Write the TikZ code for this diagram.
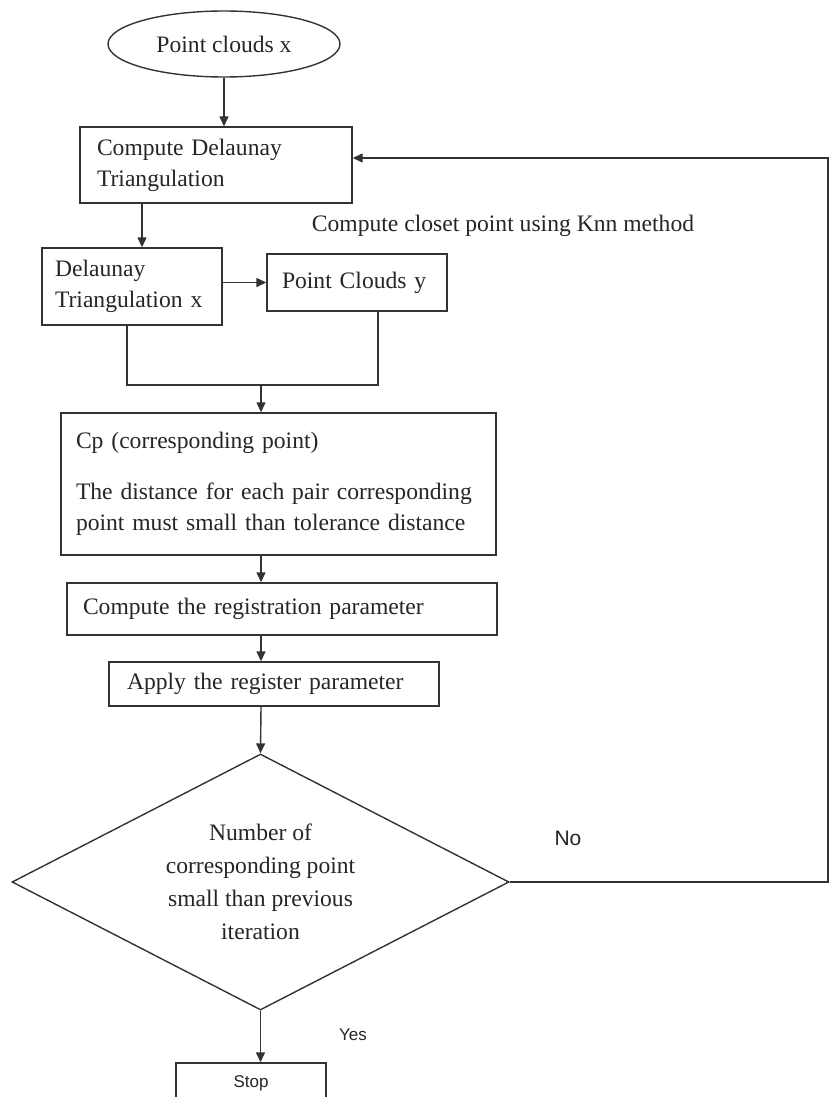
\documentclass[tikz,border=0pt]{standalone}
\usepackage{fontspec}
\setmainfont{Liberation Serif}
\setsansfont{Liberation Sans}
\usetikzlibrary{shapes.geometric,arrows.meta}

\tikzset{
    flowbox/.style={draw=black!80, line width=0.7pt, rectangle, align=left, inner ysep=2pt,
        font=\fontsize{11.8}{15.5}\selectfont, text=black!85},
    arrowline/.style={draw=black!80, line width=0.7pt, -{Triangle[length=5pt,width=4.5pt]}},
    plainline/.style={draw=black!80, line width=0.7pt},
}

\begin{document}
\begin{tikzpicture}[x=0.5pt, y=-0.5pt]
        \fill[white] (0,0) rectangle (830,1097);
        \useasboundingbox (0,0) rectangle (830,1097);
        \clip (0,0) rectangle (830,1097);

        % Start
        \node[draw=black!80, line width=0.7pt, ellipse, minimum width=116pt, minimum height=33pt, inner sep=0pt,
            font=\fontsize{11.8}{15.5}\selectfont, text=black!85] (pcx) at (224,44) {Point clouds x};

        % Prosess-bokser
        \node[flowbox, inner xsep=8.5pt, text width=119pt, minimum height=38pt]
            (dt) at (216,165) {Compute Delaunay\\Triangulation};
        \node[flowbox, inner xsep=6.5pt, text width=77pt, minimum height=38.5pt]
            (dtx) at (132,286.5) {Delaunay\\Triangulation x};
        \node[flowbox, inner xsep=7.5pt, text width=75pt, minimum height=28.5pt]
            (pcy) at (357,282.5) {Point Clouds y};
        \node[flowbox, inner xsep=7.5pt, text width=202.5pt, minimum height=71pt]
            (cp) at (278.5,484) {Cp (corresponding point)\\[10pt]The distance for each pair corresponding\\point must small than tolerance distance};
        \node[flowbox, inner xsep=8pt, text width=199pt, minimum height=26pt]
            (crp) at (282,609) {Compute the registration parameter};
        \node[flowbox, inner xsep=9pt, text width=147pt, minimum height=22pt]
            (arp) at (274,684) {Apply the register parameter};

        % Beslutning
        \node[draw=black!80, line width=0.7pt, diamond, aspect=1.94, minimum width=248.5pt, minimum height=128pt,
            inner sep=0pt, align=center, font=\fontsize{11.8}{16.5}\selectfont, text=black!85]
            (dec) at (260.5,882) {Number of\\corresponding point\\small than previous\\iteration};
        \node[flowbox, align=center, minimum width=75pt, minimum height=20pt, font=\sffamily\fontsize{8.5}{10}\selectfont]
            (stop) at (251,1083) {Stop};

        % Tekster
        \node[font=\fontsize{11.8}{15.5}\selectfont, text=black!85] (knn) at (503,226) {Compute closet point using Knn method};
        \node[font=\sffamily\fontsize{10.5}{12}\selectfont, text=black!85] (no) at (568,838) {No};
        \node[font=\sffamily\fontsize{8.5}{10}\selectfont, text=black!85] (yes) at (353,1035) {Yes};

        % Piler
        \coordinate (spine) at (261,0);
        \coordinate (merge) at (261,385);
        \coordinate (loop) at (828,0);
        \draw[arrowline] (pcx.south) -- (pcx.south |- dt.north);
        \draw[arrowline] ([xshift=-37pt]dt.south) -- ([xshift=-37pt]dt.south |- dtx.north);
        \draw[arrowline] (pcy.west -| dtx.east) -- (pcy.west);
        \draw[plainline] ([xshift=-2.5pt]dtx.south) |- (merge) -| ([xshift=10.5pt]pcy.south);
        \draw[arrowline] (merge) -- (merge |- cp.north);
        \draw[arrowline] (cp.south -| spine) -- (crp.north -| spine);
        \draw[arrowline] (crp.south -| spine) -- (arp.north -| spine);
        \draw[arrowline] (arp.south -| spine) -- (dec.north);
        \draw[arrowline] (dec.south) -- (dec.south |- stop.north);
        \draw[arrowline] (dec.east) -- (dec.east -| loop) |- ([yshift=3.5pt]dt.east);
    \end{tikzpicture}
\end{document}
